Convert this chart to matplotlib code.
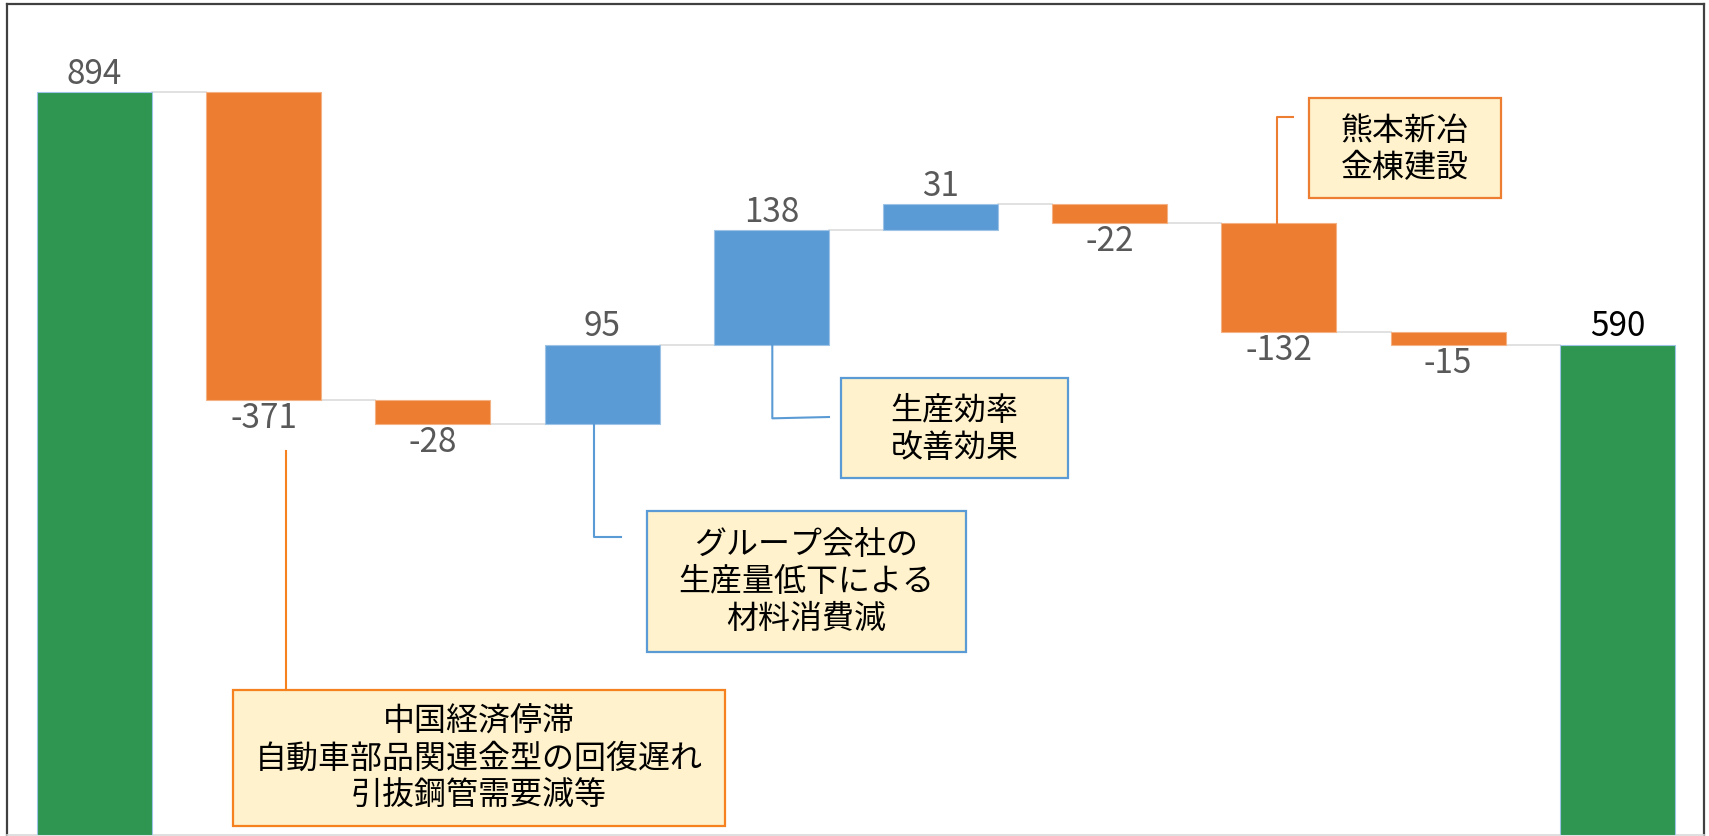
import numpy as np
import matplotlib.pyplot as plt
from matplotlib.patches import Rectangle

plt.rcParams['font.family'] = ['Noto Sans CJK JP', 'DejaVu Sans']

# waterfall data: start, changes, end
start_value = 894
changes = [-371, -28, 95, 138, 31, -22, -132, -15]
end_value = 590

GREEN = '#2E9651'
ORANGE = '#ED7D31'
BLUE = '#5B9BD5'
BOX_FILL = '#FFF2CC'


def waterfall_geometry(start, deltas, end):
    """Return bottoms, heights and colours for every bar."""
    bottoms = [0]
    heights = [start]
    colors = [GREEN]
    level = start
    for d in deltas:
        if d < 0:
            bottoms.append(level + d)
            heights.append(-d)
            colors.append(ORANGE)
        else:
            bottoms.append(level)
            heights.append(d)
            colors.append(BLUE)
        level += d
    bottoms.append(0)
    heights.append(end)
    colors.append(GREEN)
    return np.array(bottoms), np.array(heights), colors


def callout(ax, x0, y0, x1, y1, text, edge):
    ax.add_patch(Rectangle((x0, y0), x1 - x0, y1 - y0, facecolor=BOX_FILL,
                           edgecolor=edge, linewidth=1.6, zorder=4))
    ax.text((x0 + x1) / 2, (y0 + y1) / 2, text, ha='center', va='center',
            fontsize=23, color='black', linespacing=1.2, zorder=5)


def main():
    bottoms, heights, colors = waterfall_geometry(start_value, changes,
                                                  end_value)
    values = [start_value] + changes + [end_value]
    x = np.arange(len(values))
    width = 0.68

    fig = plt.figure(figsize=(17.09, 8.37), dpi=100)
    ax = fig.add_axes([7 / 1709, 1 / 837, 1697 / 1709, 831 / 837])

    edge_colors = ['#9DC3E6' if c != ORANGE else '#F4B183' for c in colors]
    ax.bar(x, heights, width, bottom=bottoms, color=colors,
           edgecolor=edge_colors, linewidth=0.8, zorder=3)

    # connector lines between consecutive bars
    levels = np.cumsum([start_value] + changes)
    for i, lvl in enumerate(levels):
        ax.plot([x[i] + width / 2, x[i + 1] - width / 2], [lvl, lvl],
                color='#D9D9D9', linewidth=1.1, zorder=2)

    # value labels
    for i, v in enumerate(values):
        top = bottoms[i] + heights[i]
        if v >= 0:
            color = 'black' if i == len(values) - 1 else '#595959'
            ax.annotate(f'{v}', (x[i], top), xytext=(0, 1),
                        textcoords='offset points', ha='center', va='bottom',
                        fontsize=24, color=color)
        else:
            ax.annotate(f'{v}', (x[i], bottoms[i]), xytext=(0, 0),
                        textcoords='offset points', ha='center', va='top',
                        fontsize=24, color='#595959')

    # callouts
    ax.plot([1.13, 1.13], [462, 174.5], color='#F5821F', linewidth=1.5,
            zorder=3)
    callout(ax, 0.817, 11.2, 3.726, 174.5,
            '中国経済停滞\n自動車部品関連金型の回復遅れ\n引抜鋼管需要減等', '#F5821F')

    ax.plot([2.954, 2.954, 3.11], [bottoms[3], 358.6, 358.6], color=BLUE,
            linewidth=1.5, zorder=3)
    callout(ax, 3.264, 220.2, 5.151, 390.3,
            'グループ会社の\n生産量低下による\n材料消費減', BLUE)

    ax.plot([4.006, 4.006, 4.341], [bottoms[4], 501.4, 503], color=BLUE,
            linewidth=1.5, zorder=3)
    callout(ax, 4.412, 429.6, 5.752, 549.9, '生産効率\n改善効果', BLUE)

    ax.plot([7.083, 6.987, 6.987], [864, 864, bottoms[7] + heights[7]],
            color=ORANGE, linewidth=1.5, zorder=3)
    callout(ax, 7.178, 766.5, 8.311, 886.9, '熊本新冶\n金棟建設', ORANGE)

    ax.set_xlim((7 - 94.5) / 169.2, (1704 - 94.5) / 169.2)
    ax.set_ylim(0, 1000)
    ax.set_xticks([])
    ax.set_yticks([])
    for side in ['left', 'top', 'right']:
        ax.spines[side].set_color('#404040')
        ax.spines[side].set_linewidth(1.6)
    ax.spines['bottom'].set_color('#D9D9D9')
    ax.spines['bottom'].set_linewidth(1.2)

    fig.savefig('out.png', dpi=100, facecolor='white')


if __name__ == "__main__":
    main()
